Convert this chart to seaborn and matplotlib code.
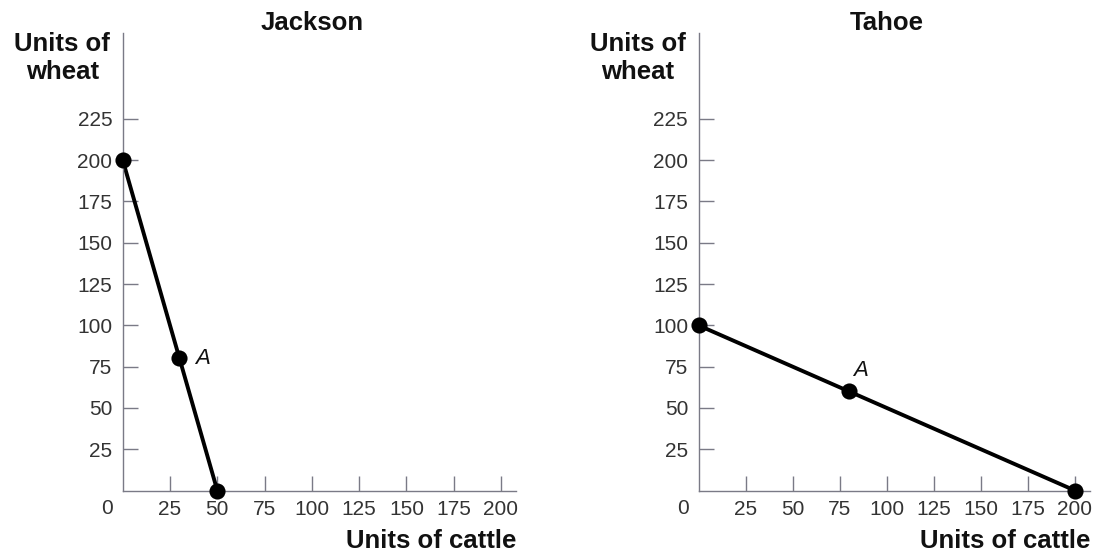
import matplotlib
matplotlib.use("Agg")
import matplotlib.pyplot as plt
import seaborn as sns
import pandas as pd

# ---- data ----
countries = ["Jackson", "Tahoe"]
jackson_cattle = [0, 50]
jackson_wheat = [200, 0]
tahoe_cattle = [0, 200]
tahoe_wheat = [100, 0]
point_a_cattle = [30, 80]   # Jackson, Tahoe
point_a_wheat = [80, 60]
x_ticks = [25, 50, 75, 100, 125, 150, 175, 200]
y_ticks = [25, 50, 75, 100, 125, 150, 175, 200, 225]
x_label = "Units of cattle"
y_label = "Units of\nwheat"
point_label = "A"

sns.set_theme(style="white")
plt.rcParams["font.family"] = ["Liberation Sans", "DejaVu Sans"]

DPI = 100
fig = plt.figure(figsize=(10.95, 5.55), dpi=DPI)

axis_col = "#7a7a86"
tick_text_col = "#333333"
text_col = "#111111"

positions = [[0.1121, 0.1162, 0.3592, 0.8243], [0.6379, 0.1162, 0.3575, 0.8243]]
lines = [(jackson_cattle, jackson_wheat), (tahoe_cattle, tahoe_wheat)]
a_offsets = [(11.5, 0), (8, 15)]
a_ha = ["left", "center"]

for i, name in enumerate(countries):
    ax = fig.add_axes(positions[i])
    cx, wy = lines[i]
    df_line = pd.DataFrame({"cattle": cx, "wheat": wy})
    sns.lineplot(data=df_line, x="cattle", y="wheat", ax=ax, color="black",
                 linewidth=2.8, sort=False)
    df_pts = pd.DataFrame({"cattle": [cx[0], point_a_cattle[i], cx[1]],
                           "wheat": [wy[0], point_a_wheat[i], wy[1]]})
    sns.scatterplot(data=df_pts, x="cattle", y="wheat", ax=ax, color="black",
                    s=135, edgecolor="black", linewidth=0, zorder=5, clip_on=False)
    for c in ax.collections:
        c.set_clip_on(False)
    for l in ax.lines:
        l.set_clip_on(False)

    ax.set_xlim(0, 208)
    ax.set_ylim(0, 277)
    ax.set_xticks(x_ticks)
    ax.set_yticks(y_ticks)
    ax.set_xlabel("")
    ax.set_ylabel("")
    for s in ["top", "right"]:
        ax.spines[s].set_visible(False)
    for s in ["left", "bottom"]:
        ax.spines[s].set_color(axis_col)
        ax.spines[s].set_linewidth(1.0)
    ax.tick_params(axis="both", which="major", bottom=True, left=True,
                   top=False, right=False, direction="in", length=10.8,
                   width=1.0, color=axis_col, labelsize=15,
                   labelcolor=tick_text_col)
    ax.tick_params(axis="x", pad=7.0)
    ax.tick_params(axis="y", pad=7.5)

    # origin label
    ax.annotate("0", xy=(0, 0), xycoords="data", xytext=(-11.5, -12.6),
                textcoords="offset points", ha="center", va="center",
                fontsize=15, color=tick_text_col, annotation_clip=False)
    # point label
    ax.annotate(point_label, xy=(point_a_cattle[i], point_a_wheat[i]),
                xycoords="data", xytext=a_offsets[i], textcoords="offset points",
                ha=a_ha[i], va="center", fontsize=16, fontstyle="italic",
                color=text_col)
    # title
    ax.annotate(name, xy=(0.5, 1), xycoords="axes fraction", xytext=(-5.5, 7),
                textcoords="offset points", ha="center", va="center",
                fontsize=18.5, fontweight="bold", color=text_col)
    # y label
    ax.annotate(y_label, xy=(0, 1), xycoords="axes fraction", xytext=(-43.5, -18),
                textcoords="offset points", ha="center", va="center",
                multialignment="center", fontsize=18.5, fontweight="bold",
                color=text_col, linespacing=1.2)
    # x label
    ax.annotate(x_label, xy=(1, 0), xycoords="axes fraction", xytext=(0, -36.5),
                textcoords="offset points", ha="right", va="center",
                fontsize=18.5, fontweight="bold", color=text_col)

fig.savefig("out.png", dpi=DPI)
